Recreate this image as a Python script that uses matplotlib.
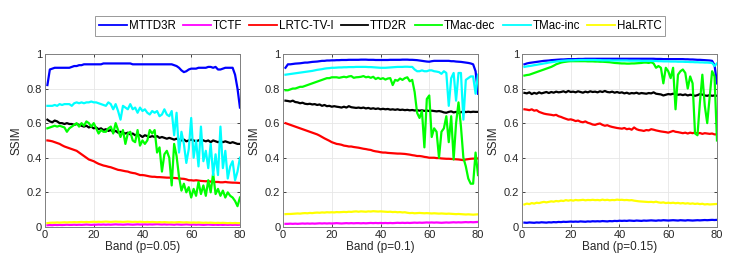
import numpy as np
import matplotlib
matplotlib.use("Agg")
import matplotlib.pyplot as plt

plt.rcParams["font.family"] = ["Liberation Sans", "DejaVu Sans"]

# ── Data: SSIM per band (bands 1..80) ─────────────────────────────────
bands = np.arange(1, 81)
methods = ["MTTD3R", "TCTF", "LRTC-TV-I", "TTD2R", "TMac-dec", "TMac-inc", "HaLRTC"]
colors = ["#0000ff", "#ff00ff", "#ff0000", "#000000", "#00ff00", "#00ffff", "#ffff00"]
xlabels = ["Band (p=0.05)", "Band (p=0.1)", "Band (p=0.15)"]

# p = 0.05
mttd3r_05 = [.82, .91, .915, .92, .92, .92, .92, .92, .92, .92,
             .925, .93, .93, .935, .935, .94, .94, .94, .94, .94,
             .94, .94, .94, .945, .945, .945, .945, .945, .945, .945,
             .945, .945, .945, .945, .945, .94, .94, .94, .94, .94,
             .94, .94, .94, .94, .94, .94, .94, .94, .94, .94,
             .94, .94, .935, .93, .92, .905, .895, .90, .91, .915,
             .915, .915, .92, .92, .92, .92, .925, .925, .92, .925,
             .91, .91, .915, .92, .92, .92, .92, .88, .80, .69]
tctf_05 = [.010, .011, .010, .012, .011, .012, .011, .012, .013, .012,
           .012, .013, .012, .013, .012, .013, .014, .013, .012, .013,
           .013, .014, .013, .014, .013, .014, .013, .014, .015, .014,
           .014, .013, .014, .015, .014, .013, .014, .015, .014, .014,
           .015, .014, .015, .014, .015, .016, .015, .014, .015, .014,
           .015, .014, .013, .015, .014, .013, .014, .015, .014, .013,
           .014, .013, .014, .013, .012, .013, .014, .013, .012, .013,
           .012, .013, .012, .013, .012, .013, .012, .013, .012, .013]
lrtc_05 = [.50, .498, .495, .49, .485, .48, .472, .465, .46, .455,
           .45, .445, .44, .43, .42, .41, .40, .39, .385, .38,
           .372, .365, .36, .355, .352, .348, .345, .34, .335, .33,
           .328, .325, .322, .32, .315, .312, .31, .305, .30, .30,
           .298, .295, .292, .29, .29, .288, .288, .287, .286, .285,
           .285, .284, .283, .282, .28, .279, .278, .275, .27, .27,
           .268, .27, .268, .266, .265, .264, .265, .262, .26, .26,
           .26, .258, .258, .26, .258, .257, .256, .256, .255, .254]
ttd2r_05 = [.62, .61, .605, .615, .61, .60, .60, .595, .60, .595,
            .595, .59, .595, .59, .585, .58, .585, .575, .58, .57,
            .575, .565, .57, .56, .565, .555, .56, .55, .555, .545,
            .55, .545, .54, .545, .535, .54, .53, .535, .53, .52,
            .53, .525, .52, .525, .52, .525, .515, .52, .515, .51,
            .515, .51, .505, .51, .505, .50, .505, .495, .50, .505,
            .50, .495, .50, .505, .50, .495, .50, .49, .50, .495,
            .49, .495, .49, .495, .49, .485, .49, .485, .48, .48]
tmacdec_05 = [.57, .575, .58, .585, .58, .585, .58, .575, .55, .57,
              .58, .59, .60, .58, .60, .585, .61, .60, .58, .60,
              .57, .54, .56, .55, .55, .57, .58, .54, .60, .56,
              .52, .56, .48, .54, .55, .50, .49, .56, .47, .50,
              .48, .50, .56, .54, .56, .43, .46, .32, .42, .44,
              .40, .24, .48, .41, .29, .21, .25, .20, .23, .17,
              .22, .18, .26, .19, .24, .18, .27, .20, .31, .19,
              .22, .18, .21, .17, .20, .18, .17, .15, .12, .17]
tmacinc_05 = [.70, .70, .70, .705, .70, .71, .705, .71, .71, .71,
              .70, .715, .72, .715, .72, .715, .72, .72, .725, .72,
              .72, .715, .71, .705, .70, .72, .71, .68, .71, .67,
              .62, .70, .69, .68, .71, .68, .69, .66, .69, .67,
              .68, .66, .65, .67, .66, .67, .64, .65, .68, .65,
              .64, .67, .53, .66, .43, .55, .48, .37, .45, .63,
              .40, .50, .35, .58, .38, .44, .34, .48, .30, .42,
              .30, .58, .34, .44, .28, .35, .38, .27, .32, .40]
halrtc_05 = [.022, .024, .025, .025, .026, .025, .026, .027, .026, .027,
             .027, .028, .027, .028, .029, .028, .029, .028, .029, .030,
             .029, .030, .029, .030, .031, .030, .029, .030, .031, .030,
             .030, .029, .030, .031, .030, .029, .030, .029, .030, .029,
             .028, .029, .028, .029, .028, .027, .028, .027, .028, .027,
             .026, .027, .026, .027, .028, .027, .026, .027, .026, .025,
             .026, .025, .026, .025, .024, .025, .024, .025, .024, .023,
             .024, .023, .024, .023, .022, .023, .022, .023, .022, .022]

# p = 0.1
mttd3r_10 = [.92, .94, .94, .942, .944, .945, .946, .948, .95, .95,
             .952, .954, .955, .956, .958, .96, .96, .962, .962, .963,
             .963, .964, .964, .965, .965, .965, .966, .966, .966, .966,
             .966, .967, .967, .967, .966, .966, .966, .965, .965, .965,
             .965, .965, .965, .966, .966, .966, .966, .966, .967, .967,
             .967, .966, .966, .965, .964, .962, .96, .958, .956, .955,
             .958, .96, .96, .96, .96, .96, .96, .96, .958, .958,
             .956, .955, .954, .952, .95, .948, .945, .94, .90, .77]
tctf_10 = [.018, .018, .019, .018, .019, .018, .019, .020, .019, .020,
           .019, .020, .019, .020, .021, .020, .021, .020, .021, .020,
           .021, .022, .021, .020, .021, .022, .021, .022, .021, .022,
           .022, .021, .022, .021, .022, .023, .022, .023, .022, .023,
           .022, .023, .022, .023, .022, .023, .024, .023, .024, .023,
           .024, .023, .024, .025, .024, .025, .024, .025, .026, .025,
           .026, .025, .026, .025, .024, .025, .026, .025, .026, .027,
           .026, .027, .026, .027, .028, .027, .028, .027, .028, .029]
lrtc_10 = [.60, .595, .59, .585, .58, .575, .57, .565, .56, .555,
           .55, .545, .54, .535, .528, .52, .512, .505, .498, .49,
           .485, .48, .478, .475, .47, .468, .465, .465, .462, .46,
           .458, .455, .452, .45, .447, .445, .44, .437, .435, .432,
           .43, .43, .428, .427, .426, .425, .424, .424, .423, .422,
           .42, .418, .415, .413, .41, .41, .408, .405, .403, .40,
           .40, .40, .398, .398, .396, .395, .394, .394, .393, .392,
           .391, .39, .388, .386, .39, .392, .394, .395, .395, .396]
ttd2r_10 = [.73, .728, .725, .73, .722, .72, .715, .718, .712, .71,
            .712, .708, .71, .705, .708, .70, .705, .698, .70, .695,
            .698, .695, .693, .69, .695, .69, .698, .692, .69, .688,
            .69, .687, .69, .685, .688, .683, .686, .682, .685, .68,
            .683, .68, .682, .678, .68, .677, .68, .676, .678, .675,
            .677, .674, .676, .673, .675, .672, .674, .671, .673, .67,
            .672, .67, .668, .67, .667, .662, .66, .665, .668, .662,
            .665, .66, .663, .668, .664, .666, .664, .666, .665, .665]
tmacdec_10 = [.79, .79, .795, .80, .80, .805, .81, .81, .815, .82,
              .825, .83, .835, .84, .845, .85, .855, .86, .86, .865,
              .865, .865, .862, .865, .868, .865, .87, .872, .862, .865,
              .866, .868, .872, .865, .868, .862, .868, .855, .862, .855,
              .86, .852, .858, .86, .82, .85, .845, .858, .85, .86,
              .865, .842, .85, .78, .66, .63, .67, .46, .74, .76,
              .52, .57, .55, .40, .55, .57, .64, .49, .64, .39,
              .60, .72, .58, .40, .35, .28, .25, .25, .43, .30]
tmacinc_10 = [.88, .882, .884, .886, .888, .89, .892, .894, .896, .898,
              .90, .902, .905, .908, .91, .912, .915, .917, .918, .92,
              .92, .921, .922, .922, .923, .923, .924, .924, .924, .925,
              .925, .925, .925, .925, .924, .924, .923, .922, .921, .92,
              .92, .92, .921, .922, .923, .924, .925, .925, .925, .926,
              .926, .925, .925, .91, .90, .90, .905, .90, .90, .905,
              .905, .90, .898, .895, .885, .90, .89, .70, .86, .89,
              .73, .89, .89, .62, .85, .86, .87, .87, .77, .88]
halrtc_10 = [.074, .075, .075, .076, .077, .078, .077, .079, .080, .079,
             .081, .080, .082, .083, .082, .084, .083, .085, .084, .085,
             .084, .086, .085, .086, .087, .086, .088, .087, .089, .090,
             .088, .090, .089, .088, .090, .089, .091, .090, .089, .090,
             .089, .088, .087, .088, .086, .087, .085, .086, .084, .085,
             .082, .080, .081, .079, .080, .081, .080, .079, .080, .079,
             .078, .079, .078, .077, .078, .077, .076, .077, .076, .075,
             .074, .075, .074, .073, .072, .073, .072, .071, .072, .073]

# p = 0.15
mttd3r_15 = [.94, .945, .948, .95, .952, .954, .956, .958, .96, .961,
             .962, .964, .965, .966, .967, .968, .968, .969, .97, .97,
             .97, .97, .971, .971, .971, .972, .972, .972, .972, .972,
             .972, .972, .972, .972, .972, .972, .972, .972, .972, .972,
             .972, .972, .972, .972, .972, .972, .972, .972, .972, .972,
             .972, .972, .972, .972, .971, .971, .971, .97, .97, .97,
             .97, .97, .97, .97, .97, .97, .969, .969, .968, .968,
             .967, .966, .966, .965, .964, .963, .962, .96, .935, .83]
tctf_15 = [.025, .024, .026, .025, .024, .026, .025, .027, .026, .025,
           .027, .026, .028, .027, .029, .028, .030, .029, .030, .031,
           .030, .031, .030, .032, .031, .030, .032, .031, .033, .032,
           .033, .032, .034, .033, .032, .034, .033, .035, .034, .036,
           .035, .036, .035, .037, .036, .035, .037, .036, .035, .037,
           .036, .037, .038, .037, .036, .038, .037, .039, .038, .037,
           .038, .039, .038, .037, .039, .038, .037, .039, .038, .037,
           .038, .039, .038, .039, .040, .039, .040, .041, .040, .041]
lrtc_15 = [.68, .678, .675, .68, .672, .675, .665, .66, .655, .652,
           .65, .648, .645, .648, .64, .636, .63, .625, .62, .622,
           .618, .612, .615, .608, .605, .61, .602, .598, .592, .59,
           .595, .598, .59, .585, .588, .582, .578, .575, .572, .57,
           .568, .572, .565, .568, .562, .575, .565, .56, .558, .555,
           .56, .558, .565, .562, .558, .555, .552, .55, .548, .545,
           .55, .555, .55, .548, .545, .542, .545, .54, .545, .542,
           .545, .54, .543, .538, .542, .54, .538, .54, .535, .535]
ttd2r_15 = [.775, .772, .778, .768, .775, .77, .778, .772, .776, .78,
            .774, .78, .776, .782, .778, .78, .784, .778, .786, .78,
            .782, .778, .784, .78, .776, .782, .778, .784, .78, .782,
            .778, .784, .78, .786, .78, .778, .782, .776, .78, .775,
            .778, .772, .776, .77, .774, .772, .776, .77, .774, .772,
            .77, .774, .772, .778, .77, .768, .766, .76, .764, .768,
            .766, .77, .768, .764, .766, .762, .766, .76, .764, .762,
            .758, .762, .768, .765, .76, .758, .762, .758, .76, .758]
tmacdec_15 = [.875, .878, .88, .885, .89, .895, .90, .905, .91, .915,
              .92, .925, .932, .94, .945, .95, .953, .955, .957, .958,
              .958, .958, .958, .958, .958, .958, .957, .957, .957, .956,
              .956, .955, .955, .954, .953, .952, .95, .948, .947, .946,
              .945, .945, .944, .944, .945, .945, .946, .947, .948, .95,
              .95, .948, .952, .945, .92, .93, .92, .83, .92, .90,
              .86, .92, .68, .88, .90, .91, .89, .80, .87, .83,
              .54, .53, .72, .88, .70, .60, .75, .90, .87, .50]
tmacinc_15 = [.925, .928, .93, .932, .935, .937, .94, .942, .945, .947,
              .95, .952, .954, .956, .958, .96, .961, .962, .963, .963,
              .963, .964, .964, .965, .965, .965, .965, .965, .965, .965,
              .964, .964, .963, .963, .963, .963, .962, .962, .962, .962,
              .962, .962, .962, .961, .961, .961, .961, .961, .96, .96,
              .96, .96, .96, .959, .959, .958, .958, .957, .957, .957,
              .956, .956, .956, .955, .955, .955, .954, .954, .953, .953,
              .952, .952, .951, .951, .95, .95, .949, .948, .93, .945]
halrtc_15 = [.13, .135, .132, .138, .135, .14, .138, .142, .145, .142,
             .145, .148, .146, .15, .148, .152, .15, .155, .152, .155,
             .152, .156, .154, .155, .157, .154, .156, .155, .157, .155,
             .156, .154, .158, .155, .157, .154, .156, .155, .158, .156,
             .157, .155, .156, .154, .155, .152, .15, .148, .147, .146,
             .145, .144, .145, .143, .146, .142, .14, .142, .138, .14,
             .138, .14, .137, .139, .136, .138, .135, .137, .134, .136,
             .133, .135, .132, .134, .13, .132, .13, .131, .132, .133]

panels = [
    [mttd3r_05, tctf_05, lrtc_05, ttd2r_05, tmacdec_05, tmacinc_05, halrtc_05],
    [mttd3r_10, tctf_10, lrtc_10, ttd2r_10, tmacdec_10, tmacinc_10, halrtc_10],
    [mttd3r_15, tctf_15, lrtc_15, ttd2r_15, tmacdec_15, tmacinc_15, halrtc_15],
]
# in the last panel the TCTF curve is drawn in blue
panel_colors = [colors, colors, [colors[0], "#0000ff"] + colors[2:]]

# ── Figure ─────────────────────────────────────────────────────────────
fig = plt.figure(figsize=(7.47, 2.67), dpi=100)
lefts = [0.0602, 0.3789, 0.6988]
axis_col = "#262626"

for i, (series, cols) in enumerate(zip(panels, panel_colors)):
    ax = fig.add_axes([lefts[i], 0.150, 0.261, 0.648])
    for name, vals, c in zip(methods, series, cols):
        ax.plot(bands, vals, color=c, lw=1.6, label=name)
    ax.set_xlim(0, 80)
    ax.set_ylim(0, 1)
    ax.set_xticks([0, 20, 40, 60, 80])
    ax.set_yticks([0, 0.2, 0.4, 0.6, 0.8, 1])
    ax.set_yticklabels(["0", "0.2", "0.4", "0.6", "0.8", "1"])
    ax.grid(True, color="#e6e6e6", lw=0.6)
    ax.set_axisbelow(True)
    ax.tick_params(direction="in", length=2.5, width=0.6, labelsize=8,
                   colors=axis_col, top=True, right=True, pad=2)
    for sp in ax.spines.values():
        sp.set_color("#808080")
        sp.set_linewidth(0.7)
    ax.set_xlabel(xlabels[i], fontsize=8.5, color=axis_col, labelpad=1)
    ax.set_ylabel("SSIM", fontsize=8.5, color=axis_col, labelpad=3)

# legend across the top
leg_handles = [plt.Line2D([], [], color=c, lw=1.3) for c in colors]
leg = fig.legend(leg_handles, methods, loc="center", bbox_to_anchor=(0.509, 0.903),
                 ncol=7, fontsize=8.3, frameon=True, fancybox=False,
                 handlelength=2.4, handletextpad=0.15, columnspacing=0.65,
                 borderpad=0.35, borderaxespad=0)
leg.get_frame().set_edgecolor("#808080")
leg.get_frame().set_linewidth(0.7)

fig.savefig("out.png", dpi=100)
